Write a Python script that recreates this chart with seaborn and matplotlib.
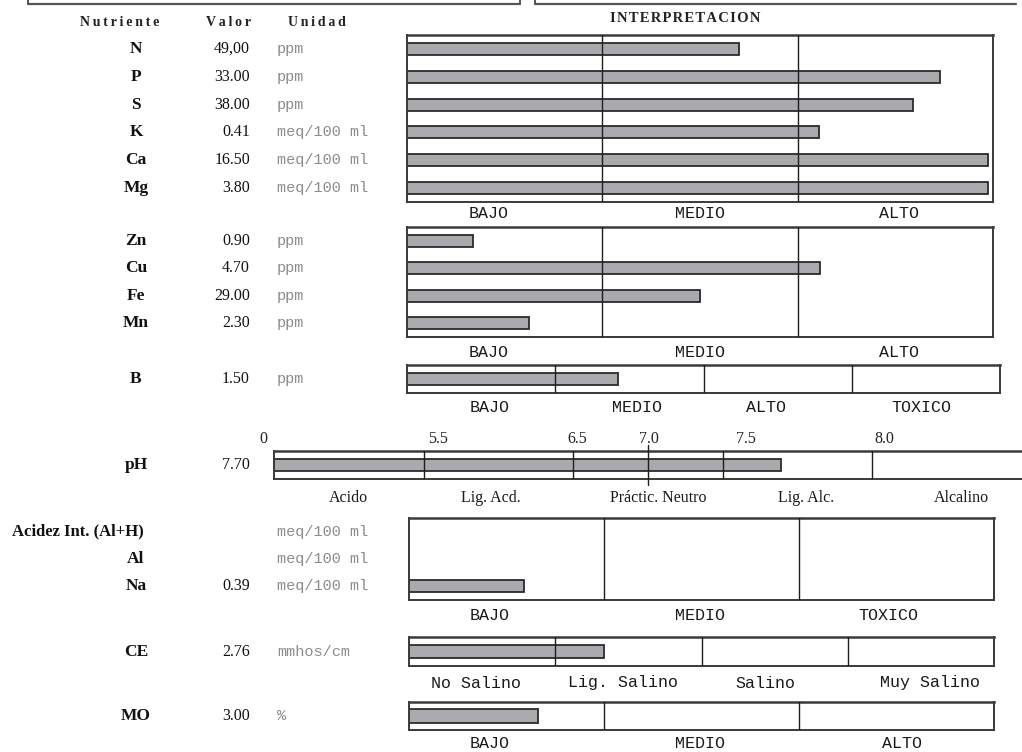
import numpy as np
import pandas as pd
import matplotlib
matplotlib.use("Agg")
import matplotlib.pyplot as plt
import matplotlib.transforms as mtrans
from matplotlib.lines import Line2D
import seaborn as sns

# ---------------- data ----------------
macro_names = ["N", "P", "S", "K", "Ca", "Mg"]
macro_values = ["49,00", "33.00", "38.00", "0.41", "16.50", "3.80"]
macro_units = ["ppm", "ppm", "ppm", "meq/100 ml", "meq/100 ml", "meq/100 ml"]
macro_levels = [1.70, 2.73, 2.59, 2.11, 2.975, 2.975]

micro_names = ["Zn", "Cu", "Fe", "Mn"]
micro_values = ["0.90", "4.70", "29.00", "2.30"]
micro_units = ["ppm", "ppm", "ppm", "ppm"]
micro_levels = [0.34, 2.115, 1.50, 0.625]

boron_names = ["B"]
boron_values = ["1.50"]
boron_units = ["ppm"]
boron_levels = [1.42]

ph_names = ["pH"]
ph_values = ["7.70"]
ph_units = [""]
ph_levels = [3.39]
ph_tick_labels = ["0", "5.5", "6.5", "7.0", "7.5", "8.0"]

acid_names = ["Acidez Int. (Al+H)", "Al", "Na"]
acid_values = ["", "", "0.39"]
acid_units = ["meq/100 ml", "meq/100 ml", "meq/100 ml"]
acid_levels = [np.nan, np.nan, 0.59]

ce_names = ["CE"]
ce_values = ["2.76"]
ce_units = ["mmhos/cm"]
ce_levels = [1.33]

mo_names = ["MO"]
mo_values = ["3.00"]
mo_units = ["%"]
mo_levels = [0.66]

classes_3 = ["BAJO", "MEDIO", "ALTO"]
classes_boron = ["BAJO", "MEDIO", "ALTO", "TOXICO"]
classes_acid = ["BAJO", "MEDIO", "TOXICO"]
classes_ce = ["No Salino", "Lig. Salino", "Salino", "Muy Salino"]
classes_ph = ["Acido", "Lig. Acd.", "Práctic. Neutro", "Lig. Alc.", "Alcalino"]

header_cols = ["Nutriente", "Valor", "Unidad"]
header_interp = "INTERPRETACION"

# ---------------- style ----------------
sns.set_theme(style="white")
plt.rcParams["font.family"] = ["Liberation Serif", "DejaVu Serif"]

W, H = 1022, 752
fig = plt.figure(figsize=(W / 100, H / 100), dpi=100)
fig.patch.set_facecolor("white")

BAR = "#aba8ae"
EDGE = "#2b2b2b"
FRAME = "#3a3a3a"
SERIF = ["Liberation Serif", "DejaVu Serif"]
MONO = "Liberation Mono"

LABEL_X = 136 / W
VALUE_X = 250 / W
UNIT_X = 277 / W


def rect(x0, x1, y0, y1):
    return [x0 / W, 1 - y1 / H, (x1 - x0) / W, (y1 - y0) / H]


def spaced(s, sep):
    return sep.join(list(s))


def panel(px, names, values, units, levels, xmax, n_div, classes, class_pos,
          gap, bar_w, extra_tick=None):
    ax = fig.add_axes(rect(*px))
    df = pd.DataFrame({"name": names, "level": levels}).dropna()
    sns.barplot(data=df, x="level", y="name", order=names, orient="h", ax=ax,
                color=BAR, edgecolor=EDGE, linewidth=1.3, width=bar_w,
                saturation=1)
    ax.set_xlim(0, xmax)
    ax.set_ylim(len(names) - 0.5, -0.5)
    ax.set_xlabel("")
    ax.set_ylabel("")
    ax.set_xticks([])
    ax.set_yticks([])
    ax.set_facecolor("white")
    for s in ax.spines.values():
        s.set_visible(True)
        s.set_color(FRAME)
        s.set_linewidth(1.4)
    ax.spines["top"].set_linewidth(1.8)
    for k in range(1, n_div):
        ax.axvline(k, color="#1e1e1e", lw=1.0, zorder=3)
    if extra_tick is not None:
        ax.axvline(extra_tick, ymin=-0.22, ymax=1.22, color="#1e1e1e", lw=1.0,
                   clip_on=False, zorder=3)
    # category labels below the box
    for c, xp in zip(classes, class_pos):
        if c in classes_ph:
            ax.annotate(c, xy=(xp, 0), xycoords=ax.get_xaxis_transform(),
                        xytext=(0, -gap), textcoords="offset pixels",
                        ha="center", va="center", fontsize=11.5,
                        family=SERIF, color="#1a1a1a")
        else:
            ax.annotate(c, xy=(xp, 0), xycoords=ax.get_xaxis_transform(),
                        xytext=(0, -gap), textcoords="offset pixels",
                        ha="center", va="center", fontsize=12,
                        family=MONO, color="#1a1a1a")
    # row labels, values, units
    tr = mtrans.blended_transform_factory(fig.transFigure, ax.transData)
    for i, (n, v, u) in enumerate(zip(names, values, units)):
        if len(n) > 4:
            ax.text(12 / W, i, n, transform=tr, ha="left", va="center",
                    family=SERIF, fontweight="bold", fontsize=12,
                    color="#111111")
        else:
            ax.text(LABEL_X, i, n, transform=tr, ha="center", va="center",
                    family=SERIF, fontweight="bold", fontsize=12.5,
                    color="#111111")
        ax.text(VALUE_X, i, v, transform=tr, ha="right", va="center",
                family=SERIF, fontsize=11.5, color="#111111")
        ax.text(UNIT_X, i, u, transform=tr, ha="left", va="center",
                family=MONO, fontsize=11, color="#8c8c8c")
    return ax


# top partial boxes
for x0, x1 in [(28, 520), (535, 1016)]:
    fig.add_artist(Line2D([x0 / W, x1 / W], [1 - 4 / H, 1 - 4 / H],
                          color="#555555", lw=1.6))
    for xx in (x0, x1):
        if xx < 1016:
            fig.add_artist(Line2D([xx / W, xx / W], [1, 1 - 4 / H],
                                  color="#555555", lw=1.4))

# headers (letter-spaced like the report)
for txt, xc in zip(header_cols, [120, 228, 317]):
    fig.text(xc / W, 1 - 22 / H, spaced(txt, "\u2009"), ha="center",
             va="center", family=SERIF, fontweight="bold", fontsize=10,
             color="#222222")
fig.text(685 / W, 1 - 19 / H, spaced(header_interp, "\u200a"), ha="center",
         va="center", family=SERIF, fontweight="bold", fontsize=10.5,
         color="#222222")

# panels
panel((407, 993, 35, 202), macro_names, macro_values, macro_units,
      macro_levels, 3, 3, classes_3, [0.42, 1.5, 2.52], 12, 0.43)
panel((407, 993, 227, 337), micro_names, micro_values, micro_units,
      micro_levels, 3, 3, classes_3, [0.42, 1.5, 2.52], 15, 0.42)
panel((407, 1000, 365, 393), boron_names, boron_values, boron_units,
      boron_levels, 4, 4, classes_boron, [0.56, 1.55, 2.42, 3.47], 14, 0.43)

ph_ax = panel((274, 1030, 451, 479), ph_names, ph_values, ph_units,
              ph_levels, (1030 - 274) / 149.5, 5, classes_ph,
              [0.5, 1.45, 2.57, 3.56, 4.6], 19, 0.46, extra_tick=2.5)
for lab, xp in zip(ph_tick_labels, [-0.07, 1.1, 2.03, 2.51, 3.16, 4.08]):
    ph_ax.annotate(lab, xy=(xp, 1), xycoords=ph_ax.get_xaxis_transform(),
                   xytext=(0, 12), textcoords="offset pixels", ha="center",
                   va="center", family=SERIF, fontsize=11.5, color="#222222")

panel((409, 994, 518, 600), acid_names, acid_values, acid_units,
      acid_levels, 3, 3, classes_acid, [0.415, 1.49, 2.46], 15, 0.43)
panel((409, 994, 637, 666), ce_names, ce_values, ce_units,
      ce_levels, 4, 4, classes_ce, [0.46, 1.46, 2.44, 3.56], 17, 0.42)
panel((409, 994, 702, 730), mo_names, mo_values, mo_units,
      mo_levels, 3, 3, classes_3, [0.415, 1.49, 2.53], 13, 0.5)

fig.savefig("out.png", dpi=100, facecolor="white")
